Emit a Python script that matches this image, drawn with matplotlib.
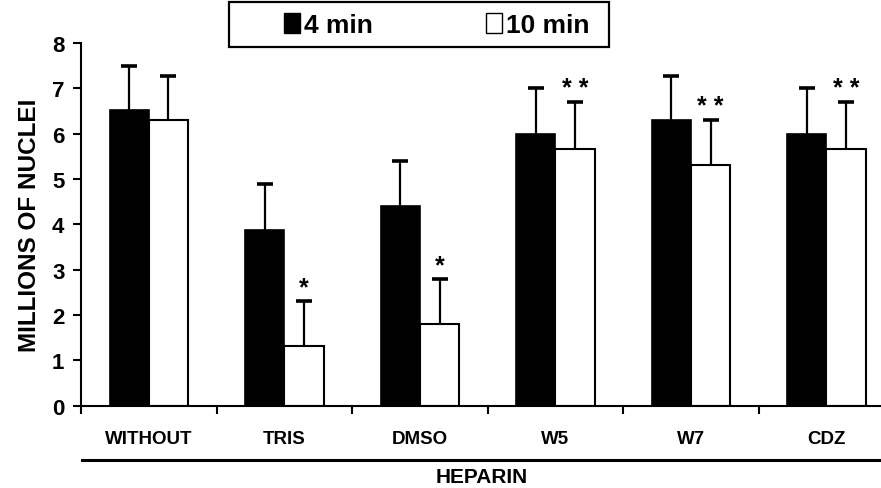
import matplotlib
matplotlib.use("Agg")
import matplotlib.pyplot as plt
from matplotlib.patches import Patch, Rectangle
from matplotlib.lines import Line2D
import numpy as np

plt.rcParams['font.family'] = ['Liberation Sans', 'DejaVu Sans']
plt.rcParams['font.weight'] = 'bold'

# data
categories = ["WITHOUT", "TRIS", "DMSO", "W5", "W7", "CDZ"]
min4 = [6.52, 3.87, 4.40, 6.00, 6.31, 6.00]
min4_err = [0.98, 1.03, 1.00, 1.01, 0.97, 1.01]
min10 = [6.30, 1.32, 1.81, 5.67, 5.31, 5.67]
min10_err = [0.97, 0.99, 0.99, 1.03, 0.99, 1.03]
stars = ["", "*", "*", "* *", "* *", "* *"]

fig = plt.figure(figsize=(8.81, 4.89), dpi=100)
ax = fig.add_axes([0.092, 0.168, 0.923, 0.742])

x = np.arange(len(categories)) + 0.5
w = 0.29

ax.bar(x - w / 2, min4, w, color="black", edgecolor="black", linewidth=1.2)
ax.bar(x + w / 2, min10, w, color="white", edgecolor="black", linewidth=1.5)

# upper error bars only: hide the lower caps
for xs, vals, errs in [(x - w / 2, min4, min4_err), (x + w / 2, min10, min10_err)]:
    eb = ax.errorbar(xs, vals, yerr=[np.zeros(6), errs], fmt="none",
                     ecolor="black", elinewidth=1.6, capsize=6, capthick=2.6)
    eb[1][0].set_visible(False)

# significance marks
for xi, v, e, s in zip(x, min10, min10_err, stars):
    if s:
        ax.text(xi + w / 2, v + e + 0.04, s, ha="center", va="bottom",
                fontsize=18, fontweight="bold")

ax.set_xlim(0, 6)
ax.set_ylim(0, 8)
ax.set_yticks(range(0, 9))
ax.set_xticks(range(0, 6))
ax.set_xticklabels([])
ax.tick_params(axis="y", direction="out", length=6, width=1.5,
               labelsize=16, pad=6)
ax.tick_params(axis="x", direction="out", length=6, width=1.5)
for lab in ax.get_yticklabels():
    lab.set_fontweight("bold")

for xi, c in zip(x, categories):
    ax.text(xi, -0.72, c, ha="center", va="center", fontsize=13.5,
            fontweight="bold")

ax.spines["top"].set_visible(False)
ax.spines["right"].set_visible(False)
ax.spines["left"].set_linewidth(1.5)
ax.spines["bottom"].set_linewidth(1.5)

ax.set_ylabel("MILLIONS OF NUCLEI", fontsize=17.5, fontweight="bold",
              labelpad=8)

# HEPARIN bracket line and label
fig.add_artist(Line2D([82 / 881, 1.0], [1 - 461 / 489, 1 - 461 / 489],
                      color="black", linewidth=2.2))
fig.text(482 / 881, 1 - 478 / 489, "HEPARIN", ha="center", va="center",
         fontsize=15, fontweight="bold")

# legend box drawn separately, entries placed inside it
fig.add_artist(Rectangle((229 / 881, 1 - 48 / 489), 380 / 881, 45 / 489,
                         transform=fig.transFigure, facecolor="white",
                         edgecolor="black", linewidth=1.6))
handles = [Patch(facecolor="black", edgecolor="black"),
           Patch(facecolor="white", edgecolor="black")]
fig.legend(handles, ["4 min", "10 min"], ncol=2, loc="center",
           bbox_to_anchor=(437 / 881, 1 - 26 / 489), frameon=False,
           prop={"size": 19, "weight": "bold"},
           handlelength=0.6, handleheight=0.8, handletextpad=0.15,
           columnspacing=4.3)

fig.savefig("out.png", dpi=100)
